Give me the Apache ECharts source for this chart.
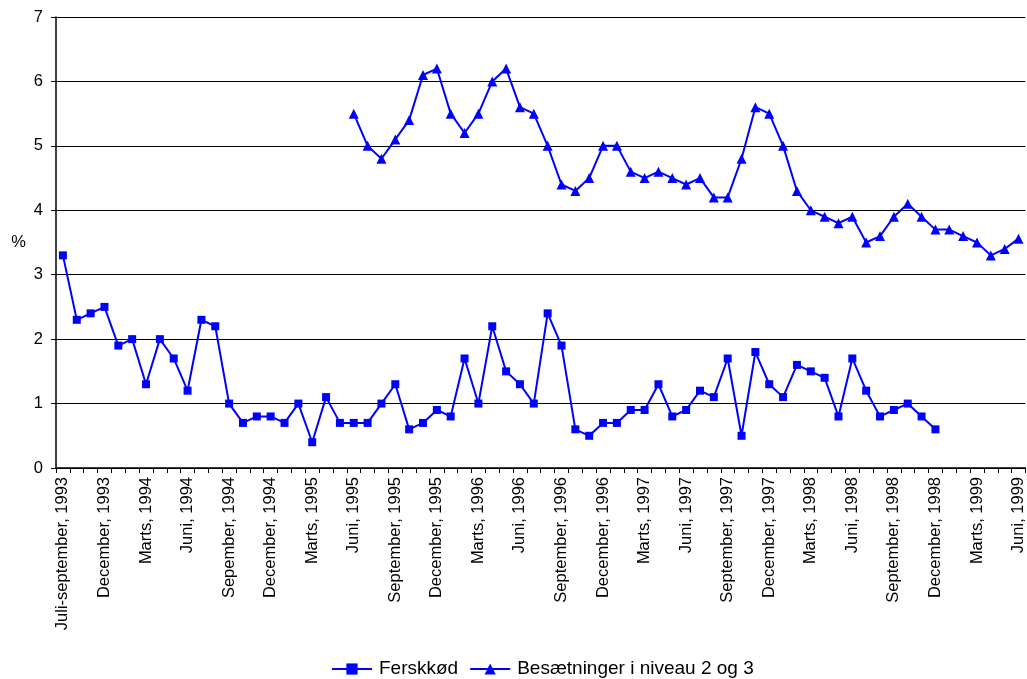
<!DOCTYPE html>
<html>
<head>
<meta charset="utf-8">
<script src="https://cdn.jsdelivr.net/npm/echarts@6/dist/echarts.min.js"></script>
<style>
html,body{margin:0;padding:0;background:#fff;}
#chart{width:1027px;height:679px;}
</style>
</head>
<body>
<div id="chart"></div>
<script>
var categories = [
  "Juli-september, 1993", "Oktober, 1993", "November, 1993", "December, 1993",
  "Januar, 1994", "Februar, 1994", "Marts, 1994", "April, 1994", "Maj, 1994", "Juni, 1994",
  "Juli, 1994", "August, 1994", "Sepember, 1994", "Oktober, 1994", "November, 1994", "December, 1994",
  "Januar, 1995", "Februar, 1995", "Marts, 1995", "April, 1995", "Maj, 1995", "Juni, 1995",
  "Juli, 1995", "August, 1995", "September, 1995", "Oktober, 1995", "November, 1995", "December, 1995",
  "Januar, 1996", "Februar, 1996", "Marts, 1996", "April, 1996", "Maj, 1996", "Juni, 1996",
  "Juli, 1996", "August, 1996", "September, 1996", "Oktober, 1996", "November, 1996", "December, 1996",
  "Januar, 1997", "Februar, 1997", "Marts, 1997", "April, 1997", "Maj, 1997", "Juni, 1997",
  "Juli, 1997", "August, 1997", "September, 1997", "Oktober, 1997", "November, 1997", "December, 1997",
  "Januar, 1998", "Februar, 1998", "Marts, 1998", "April, 1998", "Maj, 1998", "Juni, 1998",
  "Juli, 1998", "August, 1998", "September, 1998", "Oktober, 1998", "November, 1998", "December, 1998",
  "Januar, 1999", "Februar, 1999", "Marts, 1999", "April, 1999", "Maj, 1999", "Juni, 1999"
];

var ferskkod = [
  3.3, 2.3, 2.4, 2.5, 1.9, 2.0, 1.3, 2.0, 1.7, 1.2,
  2.3, 2.2, 1.0, 0.7, 0.8, 0.8, 0.7, 1.0, 0.4, 1.1,
  0.7, 0.7, 0.7, 1.0, 1.3, 0.6, 0.7, 0.9, 0.8, 1.7,
  1.0, 2.2, 1.5, 1.3, 1.0, 2.4, 1.9, 0.6, 0.5, 0.7,
  0.7, 0.9, 0.9, 1.3, 0.8, 0.9, 1.2, 1.1, 1.7, 0.5,
  1.8, 1.3, 1.1, 1.6, 1.5, 1.4, 0.8, 1.7, 1.2, 0.8,
  0.9, 1.0, 0.8, 0.6, null, null, null, null, null, null
];

var besaetninger = [
  null, null, null, null, null, null, null, null, null, null,
  null, null, null, null, null, null, null, null, null, null,
  null, 5.5, 5.0, 4.8, 5.1, 5.4, 6.1, 6.2, 5.5, 5.2,
  5.5, 6.0, 6.2, 5.6, 5.5, 5.0, 4.4, 4.3, 4.5, 5.0,
  5.0, 4.6, 4.5, 4.6, 4.5, 4.4, 4.5, 4.2, 4.2, 4.8,
  5.6, 5.5, 5.0, 4.3, 4.0, 3.9, 3.8, 3.9, 3.5, 3.6,
  3.9, 4.1, 3.9, 3.7, 3.7, 3.6, 3.5, 3.3, 3.4, 3.56
];

var seriesNames = ["Ferskkød", "Besætninger i niveau 2 og 3"];
var yTicks = [0, 1, 2, 3, 4, 5, 6, 7];

var FONT = "'Liberation Sans', Arial, sans-serif";
var BLUE = "#0000ff";

var chart = echarts.init(document.getElementById('chart'), null, {renderer: 'canvas'});
chart.setOption({
  animation: false,
  backgroundColor: '#ffffff',
  textStyle: {fontFamily: FONT, color: '#000'},
  grid: {left: 56, top: 17, width: 973, height: 451, containLabel: false},
  legend: {
    left: 331, top: 659, padding: 0,
    itemWidth: 40, itemHeight: 14, itemGap: 11,
    textStyle: {fontFamily: FONT, fontSize: 19, lineHeight: 20, color: '#000', padding: [0, 0, 0, 2]},
    data: seriesNames
  },
  xAxis: {
    type: 'category',
    data: categories,
    boundaryGap: true,
    axisLine: {lineStyle: {color: '#000', width: 1.5}},
    axisTick: {show: true, inside: false, length: 5, interval: 0, lineStyle: {color: '#000', width: 1}},
    axisLabel: {interval: 2, rotate: 90, margin: 9, fontFamily: FONT, fontSize: 16.5, color: '#000'},
    splitLine: {show: false}
  },
  yAxis: {
    type: 'value',
    min: yTicks[0], max: yTicks[yTicks.length - 1], interval: 1,
    name: '%', nameLocation: 'middle', nameRotate: 0, nameGap: 30,
    nameTextStyle: {fontFamily: FONT, fontSize: 16.5, color: '#000'},
    axisLine: {show: true, lineStyle: {color: '#000', width: 1.5}},
    axisTick: {show: true, inside: false, length: 5, lineStyle: {color: '#000'}},
    axisLabel: {margin: 13, fontFamily: FONT, fontSize: 16.5, color: '#000'},
    splitLine: {show: true, lineStyle: {color: '#000', width: 1.2}}
  },
  series: [
    {
      name: seriesNames[0], type: 'line', data: ferskkod,
      symbol: 'rect', symbolSize: 8, showSymbol: true, showAllSymbol: true,
      lineStyle: {color: BLUE, width: 2},
      itemStyle: {color: BLUE},
      connectNulls: false
    },
    {
      name: seriesNames[1], type: 'line', data: besaetninger,
      symbol: 'triangle', symbolSize: [10, 10], showSymbol: true, showAllSymbol: true,
      lineStyle: {color: BLUE, width: 2},
      itemStyle: {color: BLUE},
      connectNulls: false
    }
  ]
});
</script>
</body>
</html>
